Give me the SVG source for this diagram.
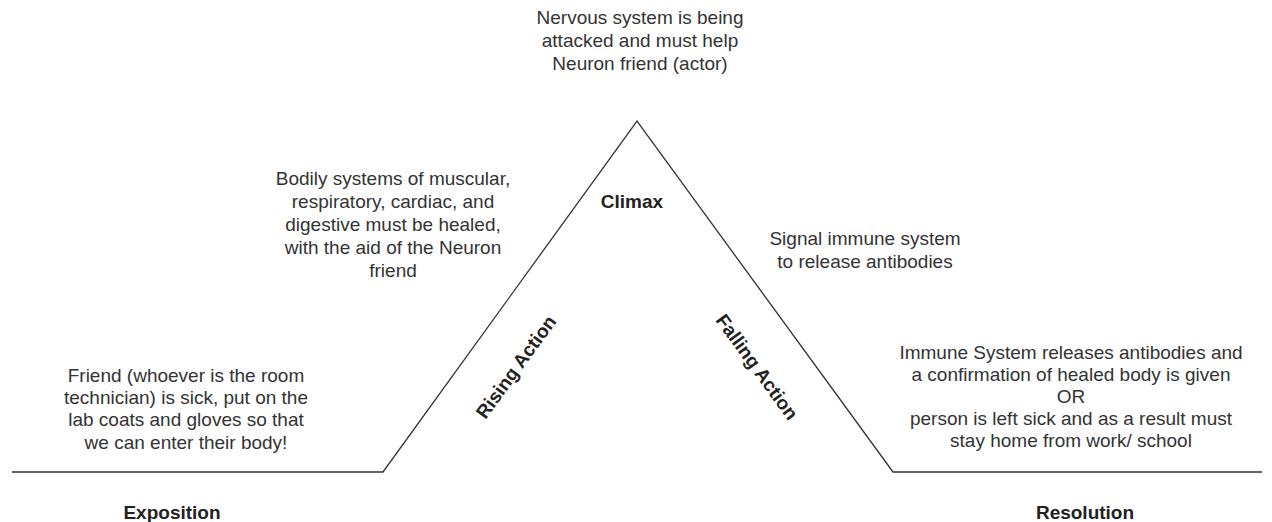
<svg xmlns="http://www.w3.org/2000/svg" width="1272" height="522" viewBox="0 0 1272 522">
<style>
text{font-family:"Liberation Sans",Arial,sans-serif;font-size:19px;fill:#333;text-anchor:middle;dominant-baseline:central}
.b{font-weight:bold;fill:#222}
.ln{fill:none;stroke:#333;stroke-width:1.3}
</style>
<rect width="1272" height="522" fill="#fff"/>
<g id="connectors">
<polyline class="ln" points="12,472 383,472 637,121 893,472 1262,472"/>
</g>
<g id="climax-desc">
<text x="640" y="17">Nervous system is being</text>
<text x="640" y="40">attacked and must help</text>
<text x="640" y="63">Neuron friend (actor)</text>
</g>
<g id="climax"><text class="b" x="632" y="201">Climax</text></g>
<g id="rising-desc">
<text x="393" y="178">Bodily systems of muscular,</text>
<text x="393" y="201">respiratory, cardiac, and</text>
<text x="393" y="224">digestive must be healed,</text>
<text x="393" y="247">with the aid of the Neuron</text>
<text x="393" y="270">friend</text>
</g>
<g id="falling-desc">
<text x="865" y="238">Signal immune system</text>
<text x="865" y="261">to release antibodies</text>
</g>
<g id="exposition-desc">
<text x="186" y="375">Friend (whoever is the room</text>
<text x="186" y="397">technician) is sick, put on the</text>
<text x="186" y="419">lab coats and gloves so that</text>
<text x="186" y="442">we can enter their body!</text>
</g>
<g id="resolution-desc">
<text x="1071" y="352">Immune System releases antibodies and</text>
<text x="1071" y="374">a confirmation of healed body is given</text>
<text x="1071" y="396">OR</text>
<text x="1071" y="418">person is left sick and as a result must</text>
<text x="1071" y="440">stay home from work/ school</text>
</g>
<g id="rising"><text class="b" transform="translate(516,367) rotate(-54)">Rising Action</text></g>
<g id="falling"><text class="b" transform="translate(757,367) rotate(54)">Falling Action</text></g>
<g id="exposition"><text class="b" x="172" y="512">Exposition</text></g>
<g id="resolution"><text class="b" x="1085" y="512">Resolution</text></g>
</svg>
